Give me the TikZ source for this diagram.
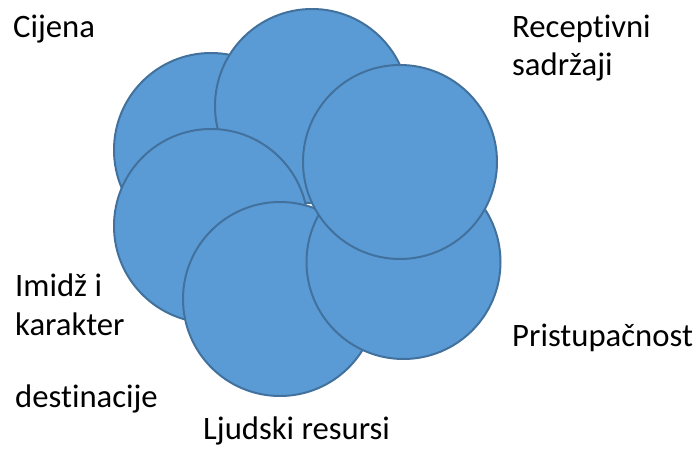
\documentclass[tikz,border=0pt]{standalone}
\usepackage{fontspec}
\setmainfont{Carlito}[Ligatures=NoCommon]
\definecolor{petalfill}{HTML}{5B9BD5}
\definecolor{petalline}{HTML}{41719C}
\begin{document}
\begin{tikzpicture}[x=1pt,y=-1pt,
  petal/.style={circle, draw=petalline, fill=petalfill, line width=2pt, minimum size=194pt, inner sep=0pt},
  lbl/.style={anchor=base west, inner sep=0pt, font=\fontsize{32.7}{39}\selectfont}]
\useasboundingbox (0,0) rectangle (699,454);
% circles in stacking order
\node[petal] (ca) at (211,150) {};
\node[petal] (cb) at (312,106) {};
\node[petal] (ce) at (211,226) {};
\node[petal] (cf) at (280,299) {};
\node[petal] (cd) at (403.5,262) {};
\node[petal] (cc) at (400,162) {};
% labels
\node[lbl] (l1) at (13,38) {Cijena};
\node[lbl] (l2a) at (512,38) {Receptivni};
\node[lbl] (l2b) at (512,76) {sadržaji};
\node[lbl] (l3) at (512,347) {Pristupačnost};
\node[lbl] (l4) at (203,439) {Ljudski resursi};
\node[lbl] (l5a) at (15,297) {Imidž i};
\node[lbl] (l5b) at (15,336) {karakter};
\node[lbl] (l5c) at (15,407) {destinacije};
\end{tikzpicture}
\end{document}
